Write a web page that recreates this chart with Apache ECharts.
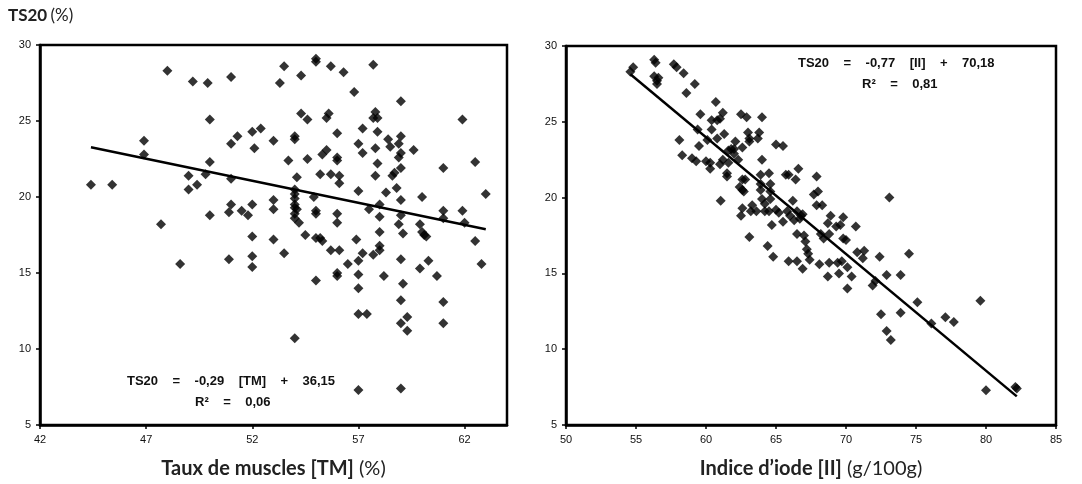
<!DOCTYPE html>
<html>
<head>
<meta charset="utf-8">
<script src="https://cdn.jsdelivr.net/npm/echarts@6/dist/echarts.min.js"></script>
<style>
html,body{margin:0;padding:0;background:#fff;}
#chart{width:1082px;height:484px;}
</style>
</head>
<body>
<div id="chart"></div>
<script>
// Taux de muscles (TM) vs TS20
var tmX=[44.4,45.4,46.9,46.9,47.7,48.0,48.6,49.0,49.0,49.2,49.4,49.8,49.9,50.0,50.0,50.0,50.9,50.9,51.0,51.0,
  51.0,51.0,51.3,51.5,51.8,52.0,52.0,52.0,52.0,52.0,52.1,52.4,53.0,53.0,53.0,53.0,53.3,53.5,53.5,53.7,
  54.0,54.0,54.0,54.0,54.0,54.0,54.0,54.0,54.0,54.0,54.1,54.1,54.2,54.3,54.3,54.5,54.6,54.6,54.9,55.0,
  55.0,55.0,55.0,55.0,55.0,55.2,55.2,55.3,55.3,55.5,55.5,55.6,55.7,55.7,55.7,56.0,56.0,56.0,56.0,56.0,
  56.0,56.0,56.1,56.1,56.1,56.3,56.5,56.8,56.9,57.0,57.0,57.0,57.0,57.0,57.0,57.0,57.2,57.2,57.2,57.4,
  57.5,57.7,57.7,57.7,57.8,57.8,57.8,57.9,57.9,57.9,58.0,58.0,58.0,58.0,58.0,58.2,58.3,58.4,58.5,58.6,
  58.7,58.8,58.9,58.9,58.9,59.0,59.0,59.0,59.0,59.0,59.0,59.0,59.0,59.0,59.0,59.1,59.1,59.3,59.3,59.6,
  59.9,59.9,60.0,60.0,60.1,60.2,60.3,60.7,61.0,61.0,61.0,61.0,61.0,61.9,61.9,62.0,62.5,62.5,62.8,63.0];
var tmY=[20.8,20.8,23.7,22.8,18.2,28.3,15.6,21.4,20.5,27.6,20.8,21.5,27.5,25.1,22.3,18.8,15.9,19.0,27.9,23.5,
  21.2,19.5,24.0,19.1,18.8,24.3,19.5,17.4,16.1,15.4,23.2,24.5,23.7,19.8,19.2,17.2,27.5,28.6,16.3,22.4,
  24.0,23.8,20.5,20.2,19.9,19.5,19.3,18.9,18.6,10.7,21.3,19.2,18.3,25.5,28.0,17.5,25.1,22.5,20.0,29.1,
  28.9,19.1,18.9,17.3,14.5,21.5,17.3,22.8,17.1,25.2,23.1,25.5,21.5,28.6,16.5,24.2,22.6,22.4,18.9,18.3,
  15.0,14.8,21.4,20.9,16.5,28.2,15.6,26.9,17.2,23.5,20.4,15.8,14.9,14.0,12.3,7.3,24.5,22.9,16.3,12.3,
  19.2,28.7,25.2,16.2,25.6,23.2,21.4,24.3,25.2,22.2,19.5,18.7,17.7,16.8,16.5,14.8,20.3,23.8,23.3,21.4,
  21.6,20.6,23.5,22.6,18.2,26.3,24.0,22.9,21.9,19.8,18.8,15.9,13.2,11.7,7.4,17.6,14.3,12.1,11.2,23.1,
  18.2,15.3,20.0,17.7,17.5,17.4,15.8,14.8,21.9,19.1,18.6,13.1,11.7,25.1,19.1,18.3,17.1,22.3,15.6,20.2];
var tmFit=[-0.29,36.15];   // pente, ordonnée
var tmRange=[44.4,63.0];

// Indice d'iode (II) vs TS20
var iiX=[54.6,54.8,56.3,56.4,56.3,56.5,56.6,56.5,57.7,57.9,58.4,58.6,59.2,58.1,58.3,59.6,59.4,59.5,59.0,59.3,
  60.0,60.3,60.3,60.1,60.4,60.4,60.7,60.8,61.0,60.8,61.0,61.2,61.3,61.2,61.05,61.5,61.5,61.6,61.6,61.8,
  62.0,62.0,62.1,62.3,62.5,62.6,62.4,62.6,62.7,62.6,62.8,62.6,62.5,62.9,63.0,63.1,63.1,63.1,63.2,63.3,
  63.6,63.7,63.8,64.0,64.0,63.9,63.9,63.9,64.0,64.2,64.2,64.4,64.5,64.6,64.6,64.6,64.5,64.7,64.8,65.0,
  65.0,65.2,65.5,65.5,65.7,65.8,65.9,65.9,66.0,66.2,66.3,66.4,66.5,66.5,66.5,66.6,66.7,66.8,66.9,66.9,
  67.0,67.1,67.2,67.3,67.4,67.7,67.9,67.9,68.0,68.1,68.2,68.3,68.4,68.7,68.7,68.8,68.8,68.9,69.3,69.4,
  69.5,69.6,69.8,69.7,69.8,70.0,70.1,70.1,70.4,70.7,70.8,71.2,71.3,71.9,72.1,72.4,72.5,72.9,72.9,73.1,
  73.2,73.9,73.9,74.5,75.1,76.1,77.1,77.7,79.6,80.0,82.1,82.2];
var iiY=[28.3,28.6,29.1,28.9,28.0,27.7,27.9,27.5,28.8,28.6,28.2,26.9,27.5,23.8,22.8,25.5,24.5,23.4,22.6,22.4,
  22.4,22.3,21.9,23.8,25.1,24.5,26.3,25.1,25.2,23.9,22.2,25.6,24.2,22.5,19.8,21.6,21.4,22.3,23.1,23.2,
  23.2,22.9,23.7,22.5,25.5,23.3,20.7,20.5,20.4,21.2,21.2,19.3,18.8,25.3,24.3,23.9,23.7,17.4,19.1,19.5,
  19.1,23.9,24.3,25.3,22.5,21.5,20.9,20.5,19.9,19.6,19.1,16.8,21.6,20.9,20.4,19.9,19.1,18.2,16.1,23.5,
  19.2,19.0,23.4,18.4,21.5,19.1,21.5,15.8,18.8,19.8,18.5,21.2,19.1,17.6,15.8,21.9,18.6,18.8,18.9,15.3,
  17.5,17.1,16.6,16.3,15.9,20.2,21.4,19.5,20.4,15.6,17.6,19.5,17.3,18.3,14.8,15.7,17.6,18.8,18.1,15.7,
  15.0,18.2,18.7,15.8,17.3,17.2,15.4,14.0,14.8,18.1,16.4,16.0,16.5,14.2,14.5,16.1,12.3,14.9,11.2,20.0,
  10.6,14.9,12.4,16.3,13.1,11.7,12.1,11.8,13.2,7.3,7.5,7.4];
var iiFit=[-0.77,70.18];
var iiRange=[54.6,82.2];

var yTicks=[5,30,5];   // min, max, pas

function pairs(xs,ys){
    var out=[];
    for(var i=0;i<xs.length;i++){ out.push([xs[i],ys[i]]); }
    return out;
}
function fitLine(fit,range){
    return [[range[0],fit[0]*range[0]+fit[1]],[range[1],fit[0]*range[1]+fit[1]]];
}

var labelStyle={color:'#111',fontSize:11,fontFamily:'Liberation Sans',margin:9};
var nameStyle={color:'#222',fontSize:20,fontFamily:'Lato',rich:{
    b:{fontWeight:'bold',fontSize:20,fontFamily:'Lato',color:'#222'},
    n:{fontWeight:'normal',fontSize:20,fontFamily:'Lato',color:'#222'}
}};
function xAxisOf(idx,min,max,name){
    return {
        type:'value',gridIndex:idx,min:min,max:max,interval:5,
        name:name,nameLocation:'middle',nameGap:34,nameTextStyle:nameStyle,
        axisLine:{show:true,onZero:false,lineStyle:{color:'#000',width:2.5}},
        axisTick:{show:true,length:4,lineStyle:{color:'#000',width:1.5}},
        axisLabel:Object.assign({showMaxLabel:idx===1},labelStyle),
        splitLine:{show:false}
    };
}
function yAxisOf(idx){
    return {
        type:'value',gridIndex:idx,min:yTicks[0],max:yTicks[1],interval:yTicks[2],
        axisLine:{show:true,onZero:false,lineStyle:{color:'#000',width:2.5}},
        axisTick:{show:true,length:4,lineStyle:{color:'#000',width:1.5}},
        axisLabel:labelStyle,
        splitLine:{show:false}
    };
}
function eqText(x,y,txt){
    return {type:'text',left:x,top:y,style:{text:txt,fontFamily:'Liberation Sans',fontWeight:'bold',fontSize:13,fill:'#111'}};
}

var myChart=echarts.init(document.getElementById('chart'));
var option={
    backgroundColor:'#fff',
    animation:false,
    grid:[
        {left:40,top:45,width:467,height:386,show:true,borderColor:'#000',borderWidth:2.5},
        {left:566,top:46,width:490,height:384,show:true,borderColor:'#000',borderWidth:2.5}
    ],
    xAxis:[
        xAxisOf(0,42,64,'{b|Taux de muscles [TM]} {n|(%)}'),
        xAxisOf(1,50,85,'{b|Indice d\u2019iode [II]} {n|(g/100g)}')
    ],
    yAxis:[yAxisOf(0),yAxisOf(1)],
    graphic:[
        {type:'text',left:8,top:7,style:{
            text:'{b|TS20} {n|(%)}',
            rich:{b:{fontFamily:'Lato',fontWeight:'bold',fontSize:17,fill:'#222'},
                  n:{fontFamily:'Lato',fontWeight:'normal',fontSize:17,fill:'#222'}}
        }},
        eqText(127,375,'TS20    =    -0,29    [TM]    +    36,15'),
        eqText(195,396,'R\u00b2    =    0,06'),
        eqText(798,57,'TS20    =    -0,77    [II]    +    70,18'),
        eqText(862,78,'R\u00b2    =    0,81')
    ],
    series:[
        {type:'scatter',xAxisIndex:0,yAxisIndex:0,symbol:'diamond',symbolSize:10,
         itemStyle:{color:'#000'},data:pairs(tmX,tmY)},
        {type:'line',xAxisIndex:0,yAxisIndex:0,showSymbol:false,symbol:'none',
         lineStyle:{color:'#000',width:2.5},data:fitLine(tmFit,tmRange),z:3},
        {type:'scatter',xAxisIndex:1,yAxisIndex:1,symbol:'diamond',symbolSize:10,
         itemStyle:{color:'#000'},data:pairs(iiX,iiY)},
        {type:'line',xAxisIndex:1,yAxisIndex:1,showSymbol:false,symbol:'none',
         lineStyle:{color:'#000',width:2.5},data:fitLine(iiFit,iiRange),z:3}
    ]
};
myChart.setOption(option);
window.onresize=myChart.resize;
</script>
</body>
</html>
